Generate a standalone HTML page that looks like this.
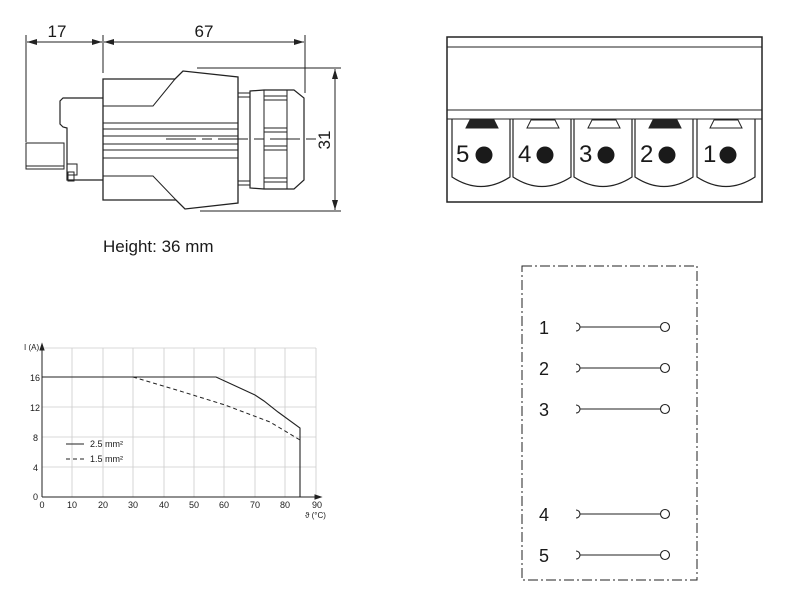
<!DOCTYPE html>
<html><head><meta charset="utf-8"><style>
html,body{margin:0;padding:0;background:#fff;}
svg{display:block;}
text{font-family:"Liberation Sans",sans-serif;fill:#1a1a1a;}
</style></head><body>
<svg width="800" height="611" viewBox="0 0 800 611" xmlns="http://www.w3.org/2000/svg">
<defs>
<marker id="ar" viewBox="0 0 10 6" refX="10" refY="3" markerWidth="10" markerHeight="6" orient="auto-start-reverse" markerUnits="userSpaceOnUse"><path d="M0,0 L10,3 L0,6z" fill="#222"/></marker>
</defs>
<g stroke="#222" fill="none" stroke-width="1">
<!-- dims -->
<line x1="26" y1="35" x2="26" y2="142"/>
<line x1="103" y1="35" x2="103" y2="73"/>
<line x1="305" y1="35" x2="305" y2="93"/>
<line x1="27" y1="42" x2="102" y2="42" marker-start="url(#ar)" marker-end="url(#ar)"/>
<line x1="104" y1="42" x2="304" y2="42" marker-start="url(#ar)" marker-end="url(#ar)"/>
<line x1="197" y1="68" x2="341" y2="68"/>
<line x1="200" y1="211" x2="341" y2="211"/>
<line x1="335" y1="69" x2="335" y2="210" marker-start="url(#ar)" marker-end="url(#ar)"/>
<!-- body -->
<path d="M103,79 L175,79 L183,71 L238,77 L238,203 L185,209 L176,200 L103,200 Z" stroke-width="1.3"/>
<path d="M175,79 L153,106 L103,106"/>
<path d="M103,176 L153,176 L176,200"/>
<line x1="103" y1="123" x2="238" y2="123"/>
<line x1="103" y1="129" x2="238" y2="129"/>
<line x1="103" y1="136" x2="238" y2="136"/>
<line x1="103" y1="144" x2="238" y2="144"/>
<line x1="103" y1="150" x2="238" y2="150"/>
<line x1="103" y1="158" x2="238" y2="158"/>
<line x1="166" y1="139" x2="320" y2="139" stroke-dasharray="30,6,10,6"/>
<!-- plug -->
<path d="M103,98 L63,98 L60,101 L60,124 L63,127 L67,128 L67,163 L67,180 L103,180" stroke-width="1.2"/>
<rect x="67" y="164" width="10" height="11"/>
<rect x="68" y="172" width="6" height="9"/>
<rect x="26" y="143" width="38" height="26"/>
<line x1="26" y1="166" x2="64" y2="166"/>
<!-- gland -->
<rect x="238" y="93" width="12" height="92"/>
<line x1="238" y1="97" x2="250" y2="97"/><line x1="238" y1="181" x2="250" y2="181"/>
<path d="M250,91 L264,90 L294,90 L304,98 L304,180 L294,189 L264,189 L250,188 Z" stroke-width="1.2"/>
<line x1="264" y1="90" x2="264" y2="189"/>
<line x1="287" y1="90" x2="287" y2="189"/>
<line x1="264" y1="96" x2="287" y2="96"/><line x1="264" y1="100" x2="287" y2="100"/>
<line x1="264" y1="128" x2="287" y2="128"/><line x1="264" y1="132" x2="287" y2="132"/>
<line x1="264" y1="146" x2="287" y2="146"/><line x1="264" y1="150" x2="287" y2="150"/>
<line x1="264" y1="178" x2="287" y2="178"/><line x1="264" y1="182" x2="287" y2="182"/>
<!-- terminal block -->
<rect x="447" y="37" width="315" height="165" stroke-width="1.5"/>
<line x1="447" y1="47" x2="762" y2="47"/>
<line x1="447" y1="110" x2="762" y2="110"/>
<line x1="447" y1="119" x2="762" y2="119"/>
</g>
<text x="57" y="37" font-size="17" text-anchor="middle">17</text>
<text x="204" y="37" font-size="17" text-anchor="middle">67</text>
<text x="0" y="0" font-size="17" text-anchor="middle" transform="translate(330,140) rotate(-90)">31</text>
<text x="103" y="252" font-size="17">Height: 36 mm</text>

<!-- pins -->
<g stroke="#222" fill="none" stroke-width="1.2">
<path d="M452,119 L452,177 Q481,196 510,177 L510,119"/>
<path d="M513,119 L513,177 Q542,196 571,177 L571,119"/>
<path d="M574,119 L574,177 Q603,196 632,177 L632,119"/>
<path d="M635,119 L635,177 Q664,196 693,177 L693,119"/>
<path d="M697,119 L697,177 Q726,196 755,177 L755,119"/>
</g>
<g stroke="#222" stroke-width="1">
<path d="M466,128 L470,120 L494,120 L498,128 Z" fill="#222"/>
<path d="M527,128 L531,120 L555,120 L559,128 Z" fill="#fff"/>
<path d="M588,128 L592,120 L616,120 L620,128 Z" fill="#fff"/>
<path d="M649,128 L653,120 L677,120 L681,128 Z" fill="#222"/>
<path d="M710,128 L714,120 L738,120 L742,128 Z" fill="#fff"/>
</g>
<g fill="#1a1a1a">
<circle cx="484" cy="155" r="8.5"/><circle cx="545" cy="155" r="8.5"/><circle cx="606" cy="155" r="8.5"/><circle cx="667" cy="155" r="8.5"/><circle cx="728" cy="155" r="8.5"/>
</g>
<g font-size="24">
<text x="456" y="162">5</text><text x="518" y="162">4</text><text x="579" y="162">3</text><text x="640" y="162">2</text><text x="703" y="162">1</text>
</g>

<!-- chart -->
<g stroke="#ccc" stroke-width="0.8">
<line x1="72" y1="348" x2="72" y2="497"/><line x1="103" y1="348" x2="103" y2="497"/><line x1="133" y1="348" x2="133" y2="497"/>
<line x1="164" y1="348" x2="164" y2="497"/><line x1="194" y1="348" x2="194" y2="497"/><line x1="224" y1="348" x2="224" y2="497"/>
<line x1="255" y1="348" x2="255" y2="497"/><line x1="285" y1="348" x2="285" y2="497"/><line x1="316" y1="348" x2="316" y2="497"/>
<line x1="42" y1="348" x2="316" y2="348"/><line x1="42" y1="377" x2="316" y2="377"/><line x1="42" y1="407" x2="316" y2="407"/>
<line x1="42" y1="437" x2="316" y2="437"/><line x1="42" y1="467" x2="316" y2="467"/>
</g>
<g stroke="#222" fill="none" stroke-width="1">
<line x1="42" y1="497" x2="42" y2="347"/><path d="M40,350 L42,344 L44,350Z" fill="#222"/>
<line x1="42" y1="497" x2="318" y2="497"/><path d="M315,495 L321,497 L315,499Z" fill="#222"/>
<path d="M42,377 L216,377 L255,395 L264,401 L278,412 L300,428 L300,497" stroke-width="1.1"/>
<path d="M133,377 L180,391 L225,405 L270,422 L300,440" stroke-dasharray="4,3"/>
<line x1="66" y1="444" x2="84" y2="444"/>
<line x1="66" y1="459" x2="84" y2="459" stroke-dasharray="4,3"/>
</g>
<g font-size="9">
<text x="90" y="447">2.5 mm²</text><text x="90" y="462">1.5 mm²</text>
<text x="24" y="350" font-size="8">I (A)</text>
<text x="30" y="381">16</text><text x="30" y="411">12</text><text x="33" y="441">8</text><text x="33" y="471">4</text><text x="33" y="500">0</text>
<g text-anchor="middle"><text x="42" y="508">0</text><text x="72" y="508">10</text><text x="103" y="508">20</text><text x="133" y="508">30</text><text x="164" y="508">40</text><text x="194" y="508">50</text><text x="224" y="508">60</text><text x="255" y="508">70</text><text x="285" y="508">80</text><text x="317" y="508">90</text></g>
<text x="305" y="518" font-size="8">ϑ (°C)</text>
</g>

<!-- schematic -->
<rect x="522" y="266" width="175" height="314" fill="none" stroke="#222" stroke-width="1" stroke-dasharray="10,3,2,3"/>
<g font-size="18"><text x="539" y="334">1</text><text x="539" y="375">2</text><text x="539" y="416">3</text><text x="539" y="521">4</text><text x="539" y="562">5</text></g>
<g stroke="#222" fill="none" stroke-width="1.1">
<path d="M576,323 A4,4 0 0 1 576,331 M580,327 L661,327"/><circle cx="665" cy="327" r="4.5"/>
<path d="M576,364 A4,4 0 0 1 576,372 M580,368 L661,368"/><circle cx="665" cy="368" r="4.5"/>
<path d="M576,405 A4,4 0 0 1 576,413 M580,409 L661,409"/><circle cx="665" cy="409" r="4.5"/>
<path d="M576,510 A4,4 0 0 1 576,518 M580,514 L661,514"/><circle cx="665" cy="514" r="4.5"/>
<path d="M576,551 A4,4 0 0 1 576,559 M580,555 L661,555"/><circle cx="665" cy="555" r="4.5"/>
</g>
</svg>
</body></html>
